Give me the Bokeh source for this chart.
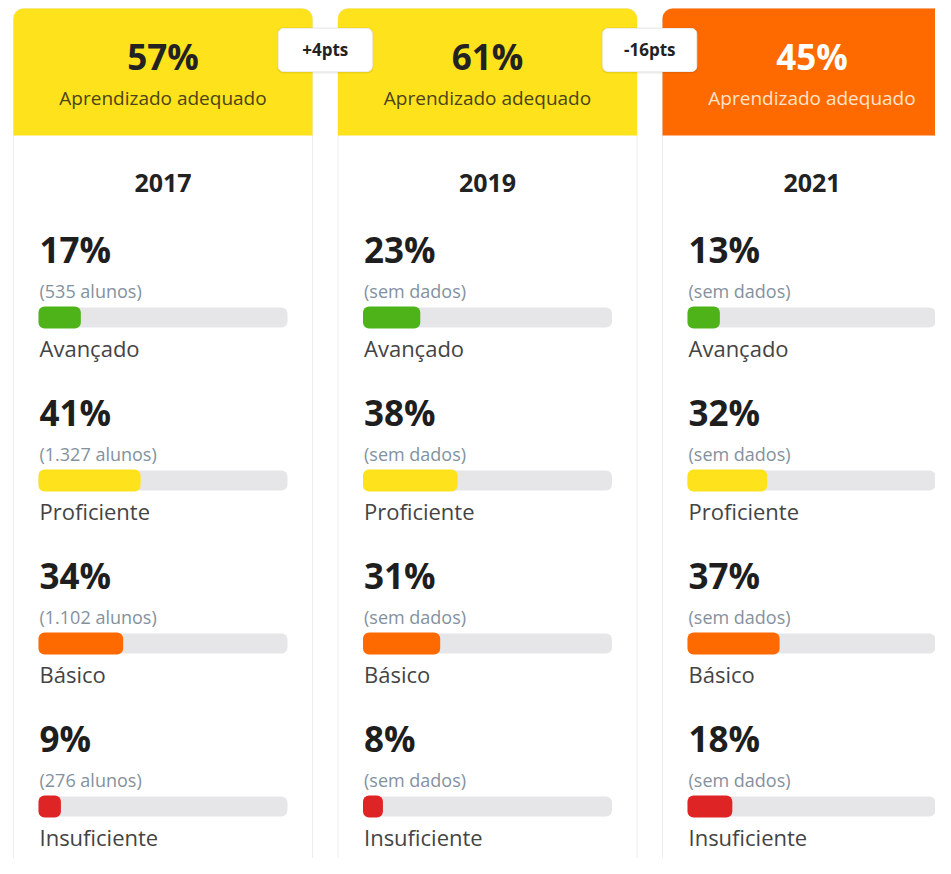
from bokeh.plotting import figure
from bokeh.models import Range1d, ColumnDataSource
from bokeh.embed import file_html
from bokeh.resources import INLINE
from bokeh.core.properties import value

# ---------------- data ----------------
years = ["2017", "2019", "2021"]
adequate = [57, 61, 45]
header_colors = ["#FDE21C", "#FDE21C", "#FF6A00"]
header_text_colors = ["#222222", "#222222", "#FFFFFF"]
header_sub_colors = ["#4A4418", "#4A4418", "#FFE3CC"]
deltas = ["+4pts", "-16pts"]
levels = ["Avançado", "Proficiente", "Básico", "Insuficiente"]
level_colors = ["#4DB318", "#FDE21C", "#FF6A00", "#DF2426"]
pct_2017 = [17, 41, 34, 9]
pct_2019 = [23, 38, 31, 8]
pct_2021 = [13, 32, 37, 18]
students_2017 = ["(535 alunos)", "(1.327 alunos)", "(1.102 alunos)", "(276 alunos)"]
students_2019 = ["(sem dados)", "(sem dados)", "(sem dados)", "(sem dados)"]
students_2021 = ["(sem dados)", "(sem dados)", "(sem dados)", "(sem dados)"]

pcts = [pct_2017, pct_2019, pct_2021]
students = [students_2017, students_2019, students_2021]

# ---------------- layout ----------------
W, H = 935, 858
card_left0, card_step, card_w = 13, 324.5, 299
header_top, header_bot, card_bot = 8, 135, 868
inset, track_w = 25, 249
row0, row_step = 249, 163
FONT = "Open Sans"

p = figure(width=W, height=H, output_backend="svg", toolbar_location=None,
           x_range=Range1d(0, W), y_range=Range1d(H, 0),
           min_border=0)
p.axis.visible = False
p.grid.visible = False
p.outline_line_color = None
p.background_fill_color = "white"
p.border_fill_color = "white"

lefts = [card_left0 + i * card_step for i in range(len(years))]
rights = [l + card_w for l in lefts]
centers = [l + card_w / 2 for l in lefts]

# card bodies
p.quad(left=lefts, right=rights, top=[header_top] * 3, bottom=[card_bot] * 3,
       fill_color="white", line_color="#EDEDED", line_width=1, border_radius=10)
# headers
p.quad(left=lefts, right=rights, top=[header_top] * 3, bottom=[header_bot] * 3,
       fill_color=header_colors, line_color=None, border_radius=(10, 10, 0, 0))

hdr = ColumnDataSource(dict(x=centers, pct=[f"{v}%" for v in adequate],
                            c=header_text_colors, sc=header_sub_colors,
                            sub=["Aprendizado adequado"] * 3, year=years))
p.text(x="x", y=56, text="pct", source=hdr, text_color="c", text_font=value(FONT),
       text_font_size="35px", text_font_style="bold", text_align="center",
       text_baseline="middle")
p.text(x="x", y=97, text="sub", source=hdr, text_color="sc", text_font=value(FONT),
       text_font_size="19px", text_align="center", text_baseline="middle")
p.text(x="x", y=182, text="year", source=hdr, text_color="#222222", text_font=value(FONT),
       text_font_size="25px", text_font_style="bold", text_align="center",
       text_baseline="middle")

# rows
for ci in range(len(years)):
    tl = lefts[ci] + inset
    ys = [row0 + r * row_step for r in range(len(levels))]
    src = ColumnDataSource(dict(
        x=[tl] * len(levels),
        xt=[tl + 1] * len(levels),
        y=ys,
        ysub=[y + 41 for y in ys],
        ybar=[y + 68 for y in ys],
        ylab=[y + 98 for y in ys],
        pct=[f"{v}%" for v in pcts[ci]],
        sub=students[ci],
        lab=levels,
        right=[tl + track_w * v / 100 for v in pcts[ci]],
        tr=[tl + track_w] * len(levels),
        col=level_colors,
    ))
    p.hbar(y="ybar", left="x", right="tr", height=20, source=src,
           fill_color="#E6E6E9", line_color=None, border_radius=6)
    p.hbar(y="ybar", left="x", right="right", height=22, source=src,
           fill_color="col", line_color=None, border_radius=6)
    p.text(x="xt", y="y", text="pct", source=src, text_color="#1E1E1E",
           text_font=value(FONT), text_font_size="35px", text_font_style="bold",
           text_baseline="middle")
    p.text(x="xt", y="ysub", text="sub", source=src, text_color="#84919D",
           text_font=value(FONT), text_font_size="18px", text_baseline="middle")
    p.text(x="xt", y="ylab", text="lab", source=src, text_color="#444444",
           text_font=value(FONT), text_font_size="22px", text_baseline="middle")

# delta badges
bx = [(rights[i] + lefts[i + 1]) / 2 for i in range(len(deltas))]
bsrc = ColumnDataSource(dict(x=bx, l=[x - 47 for x in bx], r=[x + 47 for x in bx],
                             sl=[x - 48 for x in bx], sr=[x + 48 for x in bx],
                             t=deltas))
p.quad(left="sl", right="sr", top=27, bottom=73, source=bsrc,
       fill_color="#000000", fill_alpha=0.08, line_color=None, border_radius=6)
p.quad(left="l", right="r", top=28, bottom=71, source=bsrc,
       fill_color="white", line_color="#EEEEEE", border_radius=5)
p.text(x="x", y=49, text="t", source=bsrc, text_color="#222222",
       text_font=value(FONT), text_font_size="17px", text_font_style="bold",
       text_align="center", text_baseline="middle")

open("out.html", "w").write(file_html(p, INLINE))
